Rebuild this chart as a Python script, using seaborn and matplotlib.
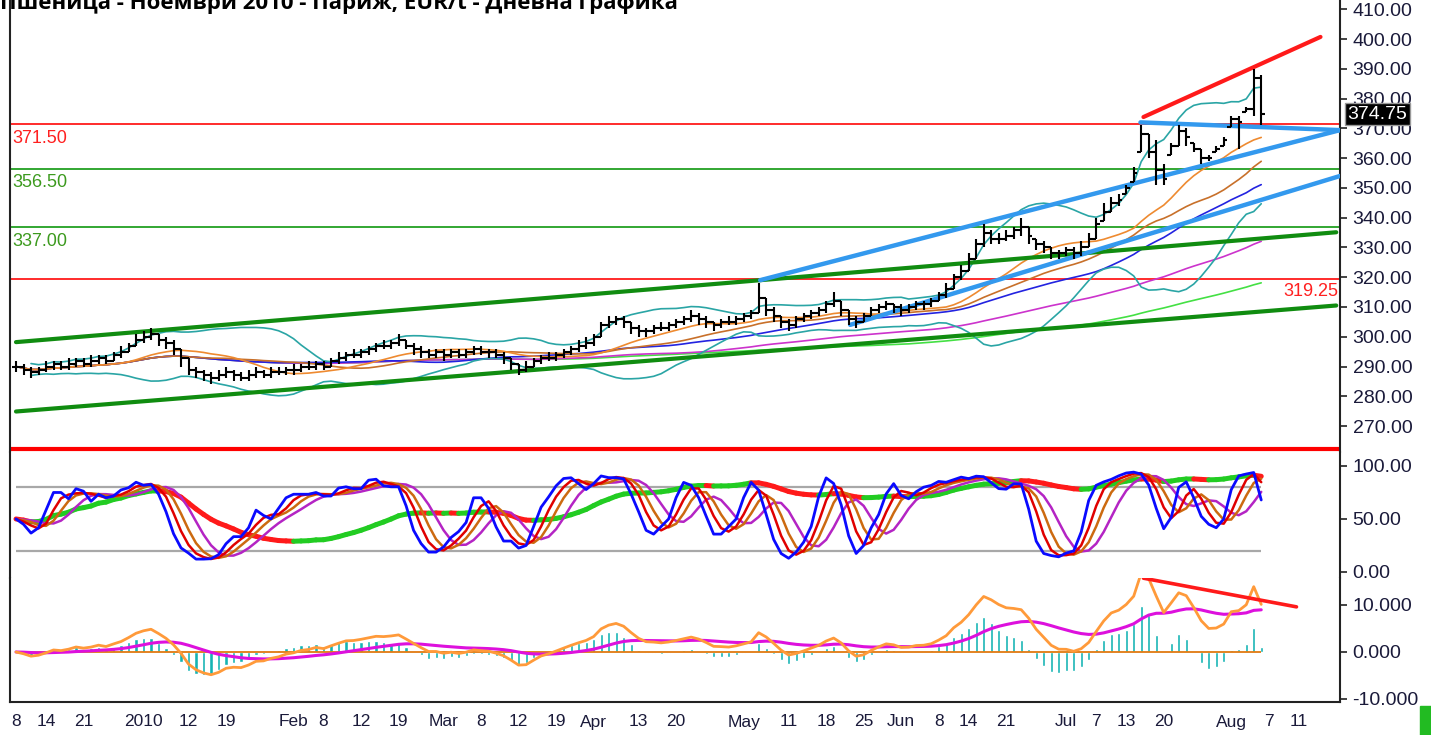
import numpy as np
import pandas as pd
import matplotlib
matplotlib.use("Agg")
import matplotlib.pyplot as plt
import matplotlib.transforms as mtransforms
from matplotlib.patches import Rectangle
import seaborn as sns

# ---------------- data (daily bars, Dec 8 2009 .. Aug 5 2010) ----------------
close = [290, 289, 288, 289, 290, 291, 290, 291, 292, 291, 292, 293, 292, 294, 295, 297, 299,
         300, 301, 299, 298, 296, 293, 289, 288, 287, 286, 287, 288, 287, 286, 287, 288, 287, 288, 288, 289,
         289, 290, 290, 291, 290, 292, 293, 294, 294, 295, 296, 297, 297, 298, 299, 297, 296, 295, 294, 295,
         294, 295, 294, 295, 296, 295, 295, 294, 293, 291, 289, 290, 292, 293, 293, 294, 295, 296, 297, 298,
         300, 304, 305, 306, 305, 303, 302, 302, 303, 303, 304, 305, 306, 307, 306, 305, 304, 305, 305, 306,
         307, 308, 313, 309, 307, 305, 304, 306, 307, 308, 309, 311, 312, 309, 306, 305, 307, 309, 310, 311, 310,
         309, 310, 311, 311, 312, 314, 316, 320, 322, 326, 331, 335, 333, 333, 334, 336, 337, 334, 331, 330, 328, 328,
         329, 328, 330, 333, 338, 342, 345, 346, 350, 355, 368, 362, 356, 353, 364, 369, 367, 363, 360, 360, 363, 366,
         373, 372, 376.5, 387, 374.75]
high = [292, 291, 290, 290, 292, 292, 292, 293, 293, 293, 294, 294, 294, 295, 297, 298, 301,
        302, 303, 301, 300, 299, 296, 293, 290, 289, 288, 289, 290, 289, 288, 289, 290, 289, 290, 290, 290,
        291, 291, 292, 292, 292, 293, 295, 295, 296, 296, 297, 298, 299, 299, 301, 299, 298, 297, 296, 296,
        296, 296, 296, 296, 297, 297, 296, 296, 295, 293, 291, 292, 293, 294, 295, 295, 296, 297, 299, 300,
        301, 305, 307, 307, 307, 305, 304, 303, 304, 305, 305, 306, 307, 309, 308, 307, 305, 306, 307, 307,
        308, 309, 318, 313, 310, 307, 306, 307, 308, 309, 310, 312, 315, 312, 309, 307, 308, 310, 311, 312, 311,
        311, 311, 312, 312, 313, 315, 318, 321, 324, 328, 333, 338, 336, 335, 336, 337, 340, 337, 333, 332, 330, 329,
        330, 330, 332, 335, 340, 345, 347, 348, 351, 357, 371, 368, 366, 358, 365, 371, 370, 365, 363, 361, 364, 367,
        374, 374, 377, 390, 388]
low = [288, 287, 286, 287, 288, 289, 289, 289, 290, 290, 290, 291, 291, 292, 293, 295, 297,
       298, 299, 297, 296, 294, 290, 287, 286, 285, 284, 285, 286, 285, 285, 285, 286, 286, 286, 287, 287,
       287, 288, 289, 289, 289, 290, 291, 292, 293, 293, 294, 295, 296, 296, 297, 296, 294, 293, 293, 293,
       292, 293, 293, 293, 294, 294, 293, 293, 291, 289, 287, 288, 290, 291, 292, 292, 293, 294, 295, 296,
       297, 300, 303, 304, 303, 301, 300, 300, 301, 302, 302, 303, 304, 305, 304, 303, 302, 303, 304, 304,
       305, 306, 308, 307, 305, 303, 302, 303, 305, 306, 307, 308, 310, 307, 304, 303, 305, 307, 308, 309, 308,
       307, 308, 309, 309, 310, 312, 313, 316, 319, 322, 326, 330, 331, 331, 332, 333, 334, 331, 329, 328, 326, 326,
       327, 326, 327, 330, 333, 339, 342, 344, 348, 352, 362, 360, 351, 351, 361, 364, 364, 362, 358, 359, 362, 364,
       370.5, 363, 375.5, 374, 371]

tick_idx = [0, 4, 9, 17, 23, 28, 37, 41, 46, 51, 57, 62, 67, 72, 77, 83, 88,
            97, 103, 108, 113, 118, 123, 127, 132, 140, 144, 148, 153, 162, 167, 171]
tick_lbl = ["8", "14", "21", "2010", "12", "19", "Feb", "8", "12", "19", "Mar", "8", "12", "19", "Apr", "13", "20",
            "May", "11", "18", "25", "Jun", "8", "14", "21", "Jul", "7", "13", "20", "Aug", "7", "11"]

red_levels = [371.5, 319.25]
green_levels = [356.5, 337.0]
floor_level = 262.3
last_price = 374.75

# trend lines: (bar index list, value list)
tl_green_upper = ([0, 176], [298.2, 335.1])
tl_green_lower = ([0, 176], [274.9, 310.5])
tl_blue_upper = ([99.2, 176.5], [319.0, 369.4])
tl_blue_flat = ([149.9, 176.5], [372.0, 369.4])
tl_blue_lower = ([111.2, 176.5], [304.0, 354.0])
tl_red_top = ([150.3, 173.9], [373.8, 400.7])
tl_macd_red = ([150.3, 170.7], [15.7, 9.6])

title = "Пшеница - Ноември 2010 - Париж, EUR/t - Дневна графика"

# ---------------- indicators ----------------
df = pd.DataFrame({"i": np.arange(len(close)), "close": close, "high": high, "low": low}, dtype=float)
df["open"] = df["close"].shift(1).fillna(df["close"]).clip(df["low"], df["high"])
c = df["close"]
for n in (15, 25, 35, 70, 120):
    df[f"sma{n}"] = c.rolling(n, min_periods=1).mean()
mid = c.rolling(20, min_periods=3).mean()
sd = c.rolling(20, min_periods=3).std()
df["bb_up"] = mid + 2 * sd
df["bb_lo"] = mid - 2 * sd


def stoch(n):
    hh = df["high"].rolling(n, min_periods=1).max()
    ll = df["low"].rolling(n, min_periods=1).min()
    return 100 * (c - ll) / (hh - ll)


df["k"] = stoch(7).rolling(2, min_periods=1).mean()
df["d"] = df["k"].rolling(3, min_periods=1).mean()
df["dd"] = df["d"].rolling(3, min_periods=1).mean()
df["dm"] = df["dd"].rolling(4, min_periods=1).mean()
df["slow"] = stoch(50).ewm(span=18, adjust=False).mean()

df["macd"] = c.ewm(span=3, adjust=False).mean() - c.ewm(span=15, adjust=False).mean()
df["sig"] = df["macd"].ewm(span=20, adjust=False).mean()
df["hist"] = df["macd"] - df["sig"]

# ---------------- figure ----------------
sns.set_style("white")
plt.rcParams["font.family"] = ["Liberation Sans", "DejaVu Sans"]
W, H = 1431, 735
fig = plt.figure(figsize=(W / 100, H / 100), dpi=100)
L, R = 10, 1340
ax = fig.add_axes([L / W, 1 - 452 / H, (R - L) / W, 452 / H])
ax2 = fig.add_axes([L / W, 1 - 578 / H, (R - L) / W, 126 / H], sharex=ax)
ax3 = fig.add_axes([L / W, 1 - 702 / H, (R - L) / W, 124 / H], sharex=ax)

XMIN, XMAX = -0.8, 176.5
lab_col = "#1a1a3a"
for a in (ax, ax2, ax3):
    a.set_facecolor("white")
    a.yaxis.tick_right()
    a.tick_params(axis="y", direction="out", length=5, width=1.2, pad=4, labelsize=14,
                  colors="#222222", labelcolor=lab_col)
    a.spines["top"].set_visible(False)
    a.spines["left"].set_color("#222222")
    a.spines["right"].set_color("#222222")
    a.spines["left"].set_linewidth(1.5)
    a.spines["right"].set_linewidth(1.5)
ax.spines["bottom"].set_visible(False)
ax2.spines["bottom"].set_visible(False)
ax3.spines["bottom"].set_color("#222222")
ax3.spines["bottom"].set_linewidth(1.5)

# ---- main price panel ----
ax.set_ylim(261.3, 413.1)
ax.set_yticks(np.arange(270, 411, 10))
ax.set_yticklabels([f"{v:.2f}" for v in np.arange(270, 411, 10)])

for lv in red_levels:
    ax.axhline(lv, color="#ff1a1a", lw=1.3, zorder=1)
for lv in green_levels:
    ax.axhline(lv, color="#22a022", lw=1.3, zorder=1)
ax.axhline(floor_level, color="#ff0000", lw=3, zorder=1)

ma_cols = {"sma120": "#44e044", "sma70": "#cc33cc", "sma35": "#2323e0", "sma25": "#c8702a", "sma15": "#ee8a30"}
for col, colr in ma_cols.items():
    sns.lineplot(data=df, x="i", y=col, ax=ax, color=colr, lw=1.2, zorder=2)
sns.lineplot(data=df, x="i", y="bb_up", ax=ax, color="#2aa5a5", lw=1.2, zorder=2)
sns.lineplot(data=df, x="i", y="bb_lo", ax=ax, color="#2aa5a5", lw=1.2, zorder=2)

ax.plot(*tl_green_upper, color="#108c10", lw=3, zorder=3)
ax.plot(*tl_green_lower, color="#108c10", lw=3, zorder=3)
for tl in (tl_blue_upper, tl_blue_flat, tl_blue_lower):
    ax.plot(*tl, color="#3399ee", lw=3.2, zorder=3)
ax.plot(*tl_red_top, color="#ff1a1a", lw=3, zorder=3)

ax.vlines(df["i"], df["low"], df["high"], color="black", lw=1.5, zorder=4)
ax.hlines(df["open"], df["i"] - 0.5, df["i"], color="black", lw=1.5, zorder=4)
ax.hlines(df["close"], df["i"], df["i"] + 0.5, color="black", lw=1.5, zorder=4)

bt = mtransforms.blended_transform_factory(ax.transAxes, ax.transData)
ax.text(0.002, 371.5 - 2.0, "371.50", transform=bt, color="#ff2020", fontsize=13, va="top", ha="left")
ax.text(0.002, 356.5 - 2.0, "356.50", transform=bt, color="#3c9a1e", fontsize=13, va="top", ha="left")
ax.text(0.002, 337.0 - 2.0, "337.00", transform=bt, color="#3c9a1e", fontsize=13, va="top", ha="left")
ax.text(0.9985, 319.25 - 1.2, "319.25", transform=bt, color="#ff2020", fontsize=13, va="top", ha="right")
ax.text(1.0055, last_price, f"{last_price:.2f}", transform=bt, color="white", fontsize=14,
        va="center", ha="left", clip_on=False, zorder=10,
        bbox=dict(boxstyle="square,pad=0.12", fc="black", ec="#999999", lw=1))

# ---- stochastic panel ----
ax2.set_ylim(-5.7, 113.2)
ax2.set_yticks([0, 50, 100])
ax2.set_yticklabels(["0.00", "50.00", "100.00"])
ax2.hlines([80, 20], 0, len(close) - 1, color="#a8a8a8", lw=1.6, zorder=1)
slow = df["slow"].values
for j in range(1, len(slow)):
    colr = "#22cc22" if slow[j] >= slow[j - 1] else "#ff1a1a"
    ax2.plot([j - 1, j], [slow[j - 1], slow[j]], color=colr, lw=3.6, solid_capstyle="round", zorder=2)
sns.lineplot(data=df, x="i", y="dm", ax=ax2, color="#b424c4", lw=1.8, zorder=3)
sns.lineplot(data=df, x="i", y="dd", ax=ax2, color="#cc6a10", lw=1.8, zorder=3)
sns.lineplot(data=df, x="i", y="d", ax=ax2, color="#e00000", lw=1.8, zorder=4)
sns.lineplot(data=df, x="i", y="k", ax=ax2, color="#0a0aff", lw=2.0, zorder=5)

# ---- MACD panel ----
ax3.set_ylim(-10.64, 15.74)
ax3.set_yticks([-10, 0, 10])
ax3.set_yticklabels(["-10.000", "0.000", "10.000"])
ax3.bar(df["i"], df["hist"], width=0.42, color="#14b4b4", zorder=2)
ax3.hlines(0, 0, len(close) - 1, color="#e07a10", lw=1.3, zorder=3)
sns.lineplot(data=df, x="i", y="sig", ax=ax3, color="#dd10dd", lw=2.2, zorder=4)
sns.lineplot(data=df, x="i", y="macd", ax=ax3, color="#ff9a3a", lw=2.0, zorder=5)
ax3.plot(*tl_macd_red, color="#ff1a1a", lw=2.6, zorder=6)

ax3.set_xlim(XMIN, XMAX)
ax3.set_xticks(tick_idx)
ax3.set_xticklabels(tick_lbl)
ax3.tick_params(axis="x", direction="out", length=6, width=1.2, pad=3, labelsize=12.5,
                colors="#222222", labelcolor=lab_col)
for a in (ax, ax2):
    a.tick_params(axis="x", bottom=False, labelbottom=False)
for a in (ax, ax2, ax3):
    a.set_xlabel("")
    a.set_ylabel("")

fig.text(0.0, 1 - 9 / H, title, fontsize=16, fontweight="bold", va="baseline", ha="left",
         family=["Open Sans", "DejaVu Sans"], color="black")
fig.patches.append(Rectangle((1420 / W, 0), 11 / W, 29 / H, transform=fig.transFigure,
                             color="#22bb22", zorder=0))

fig.savefig("out.png", dpi=100)
